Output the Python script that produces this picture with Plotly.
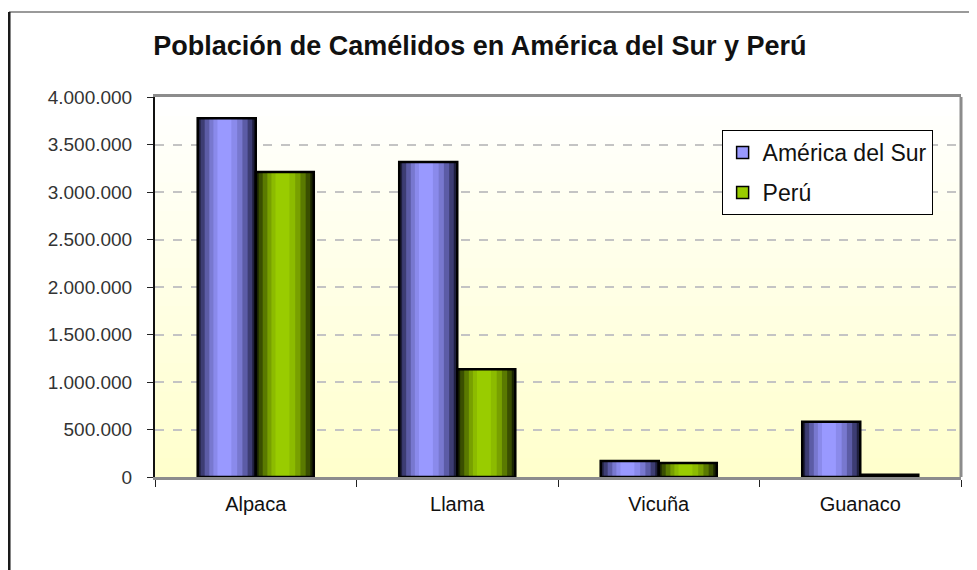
import plotly.graph_objects as go

categorias = ['Alpaca', 'Llama', 'Vicuña', 'Guanaco']
america_sur = [3776000, 3316000, 168000, 581000]
peru = [3210000, 1134000, 147000, 25000]
y_ticks = [0, 500000, 1000000, 1500000, 2000000, 2500000, 3000000, 3500000, 4000000]

series = [
    ('América del Sur', america_sur, '#9999FF',
     ['#1f1f3d', '#3d3d73', '#5c5ca6', '#7878cf', '#8a8aeb', '#9999ff']),
    ('Perú', peru, '#99CC00',
     ['#1a2400', '#3a4f00', '#5a7a00', '#78a000', '#8cbb00', '#99cc00']),
]

# (left, right) fraction of the bar for each shading layer
capas = [(0.0, 1.0), (0.05, 0.94), (0.12, 0.86), (0.20, 0.77), (0.27, 0.68), (0.34, 0.58)]

W = 0.288
fig = go.Figure()

for i, (nombre, vals, base, tonos) in enumerate(series):
    off = -W if i == 0 else 0
    # legend entry (covered by the shaded layers)
    fig.add_trace(go.Bar(x=categorias, y=vals, name=nombre, width=W, offset=off,
                         marker=dict(color=base, line=dict(color='black', width=1.5)),
                         legendgroup=nombre))
    for (a, b), c in zip(capas, tonos):
        fig.add_trace(go.Bar(x=categorias, y=vals, width=(b - a) * W, offset=off + a * W,
                             marker=dict(color=c, line=dict(width=0)),
                             showlegend=False, hoverinfo='skip', legendgroup=nombre))
    fig.add_trace(go.Bar(x=categorias, y=vals, width=W, offset=off,
                         marker=dict(color='rgba(0,0,0,0)', line=dict(color='black', width=2.5)),
                         showlegend=False, hoverinfo='skip', legendgroup=nombre))

# plot area gradient: white at top to pale yellow at bottom
shapes = []
n = 40
for k in range(n):
    t = k / (n - 1)
    b = int(round(255 - 51 * (1 - t)))
    shapes.append(dict(type='rect', xref='x domain', yref='y domain',
                       x0=0, x1=1, y0=k / n, y1=(k + 1) / n + 0.002,
                       fillcolor=f'rgb(255,255,{b})', line=dict(width=0), layer='below'))

# right border of plot area
shapes.append(dict(type='line', xref='x domain', yref='y domain', x0=1, x1=1, y0=0, y1=1,
                   line=dict(color='#8c8c8c', width=3)))
# outer chart frame
shapes.append(dict(type='line', xref='paper', yref='paper', x0=-0.1811, x1=1.05, y0=1.2237, y1=1.2237,
                   line=dict(color='#9a9a9a', width=2)))
shapes.append(dict(type='line', xref='paper', yref='paper', x0=-0.1811, x1=-0.1811, y0=1.2237, y1=-0.26,
                   line=dict(color='#1a1a1a', width=3)))

fig.update_layout(
    width=977, height=570,
    margin=dict(l=147, r=24, t=89, b=101),
    paper_bgcolor='white', plot_bgcolor='#FFFFCC',
    barmode='overlay',
    separators=',.',
    font=dict(family='Liberation Sans, Arial, sans-serif', color='#222222'),
    title=dict(text='<b>Población de Camélidos en América del Sur y Perú</b>',
               x=0.483, xref='container', xanchor='center',
               y=0.935, yref='container', yanchor='middle',
               font=dict(size=27, color='#111111')),
    legend=dict(x=0.703, y=0.913, xanchor='left', yanchor='top',
                bgcolor='white', bordercolor='black', borderwidth=1,
                font=dict(size=23, color='#111111'),
                traceorder='grouped', tracegroupgap=7),
    shapes=shapes,
    xaxis=dict(type='category', showline=True, linecolor='#8c8c8c', linewidth=3, mirror=True,
               ticks='outside', tickson='boundaries', ticklen=7, tickcolor='#222222',
               tickfont=dict(size=20, color='#111111'), showgrid=False,
               ticklabelstandoff=7),
    yaxis=dict(range=[0, 4000000], tickvals=y_ticks, tickformat=',d',
               showline=True, linecolor='#111111', linewidth=2,
               ticks='outside', ticklen=6, tickcolor='#222222',
               tickfont=dict(size=19, color='#333333'),
               showgrid=True, gridcolor='#c4c4c4', gridwidth=2, griddash='dash',
               zeroline=False, ticklabelstandoff=11),
)

fig.write_html('out.html')
